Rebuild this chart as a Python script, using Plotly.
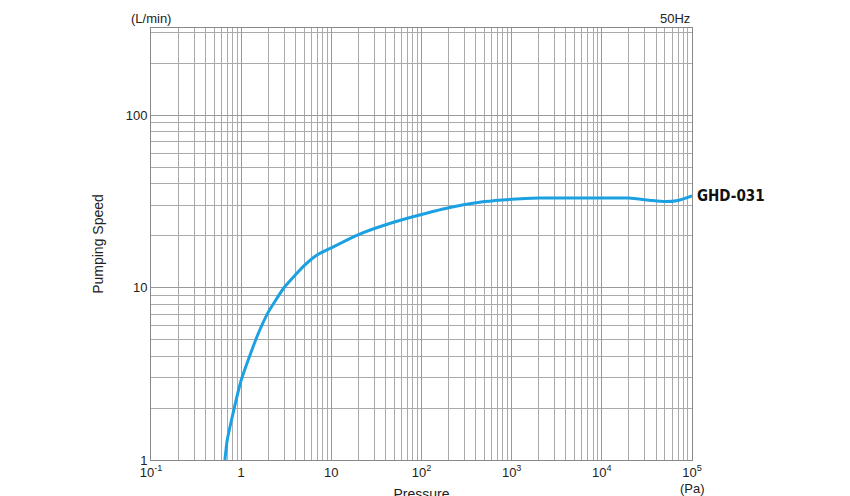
import plotly.graph_objects as go

pressure = [0.66, 0.7, 0.8, 1, 1.5, 2, 3, 5, 7, 10, 20, 50, 100, 200, 500, 1000,
            2000, 5000, 10000, 20000, 35000, 50000, 70000, 100000]
speed = [1, 1.3, 1.8, 2.9, 5.2, 7.2, 10, 13.4, 15.5, 17, 20.3, 24, 26.5, 29, 31.5, 32.5,
         33, 33, 33, 33, 32, 31.5, 32, 34]

x_ticks = [0.1, 1, 10, 100, 1000, 10000, 100000]
x_labels = ["10<sup>-1</sup>", "1", "10", "10<sup>2</sup>", "10<sup>3</sup>", "10<sup>4</sup>", "10<sup>5</sup>"]
y_ticks = [1, 10, 100]

fig = go.Figure(go.Scatter(
    x=pressure, y=speed, mode="lines",
    line=dict(color="#1ba1e2", width=3, shape="spline", smoothing=0.5),
    showlegend=False, hoverinfo="skip"))

grid = dict(showgrid=True, gridcolor="#999", gridwidth=1,
            minor=dict(showgrid=True, gridcolor="#aaa", gridwidth=1, dtick="D1"),
            showline=True, linecolor="#888", mirror=True,
            ticks="", zeroline=False, automargin=False,
            tickfont=dict(family="Liberation Sans", size=13, color="#222"))

fig.update_layout(
    width=850, height=496,
    paper_bgcolor="white", plot_bgcolor="white",
    margin=dict(l=143, r=166, t=20, b=44),
    xaxis=dict(type="log", range=[-1, 5], tickvals=x_ticks, ticktext=x_labels,
               title=dict(text="Pressure", standoff=10,
                          font=dict(family="Liberation Sans", size=14, color="#222")),
               **grid),
    yaxis=dict(type="log", range=[0, 2.505], tickvals=y_ticks,
               title=dict(text="Pumping Speed", standoff=18,
                          font=dict(family="Liberation Sans", size=14, color="#222")),
               **grid),
    annotations=[
        dict(text="(L/min)", x=0, y=1, xref="paper", yref="paper", xanchor="center",
             yanchor="bottom", showarrow=False,
             font=dict(family="Liberation Sans", size=13, color="#222")),
        dict(text="50Hz", x=1, y=1, xref="paper", yref="paper", xanchor="right",
             yanchor="bottom", showarrow=False,
             font=dict(family="Liberation Sans", size=13, color="#222")),
        dict(text="(Pa)", x=1, y=-0.065, xref="paper", yref="paper", xanchor="center",
             yanchor="middle", showarrow=False,
             font=dict(family="Liberation Sans", size=13, color="#222")),
        dict(text="<b>GHD-031</b>", x=1.005, y=1.53, xref="paper", yref="y",
             xanchor="left", yanchor="middle", showarrow=False,
             font=dict(family="DejaVu Sans Condensed", size=15, color="#111")),
    ],
)

fig.write_html("out.html")
